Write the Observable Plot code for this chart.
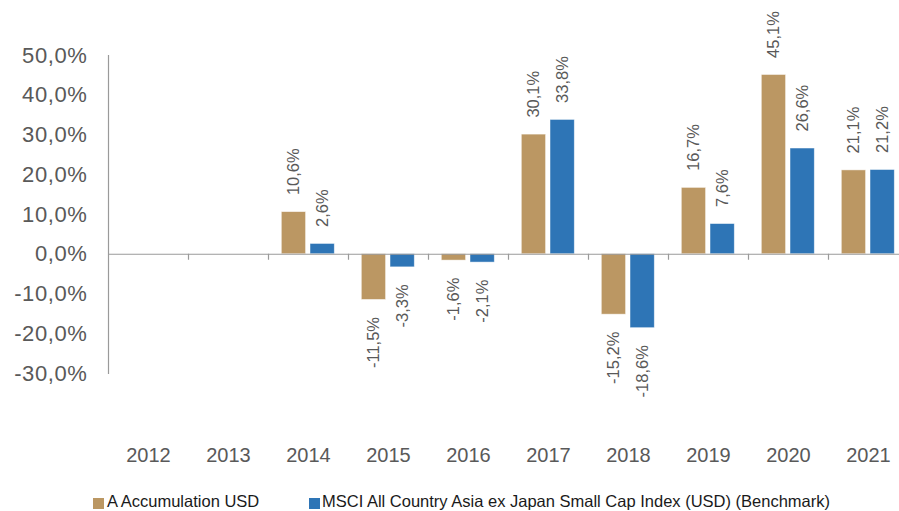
<!DOCTYPE html>
<html>
<head>
<meta charset="utf-8">
<script src="https://cdn.jsdelivr.net/npm/d3@7"></script>
<script src="https://cdn.jsdelivr.net/npm/@observablehq/plot@0.6"></script>
<style>
  html, body { margin: 0; padding: 0; background: #fff; }
  body { width: 899px; height: 511px; overflow: hidden; font-family: "Liberation Sans", Arial, sans-serif; }
  #chart svg { display: block; overflow: hidden; }
  .yax text { letter-spacing: 0.6px; }
  #legend { position: relative; height: 26px; width: 899px; font-family: "Liberation Sans", Arial, sans-serif; font-size: 16.5px; color: #1a1a1a; }
  #legend .sw { position: absolute; top: 13px; width: 10.5px; height: 10.5px; }
  #legend .lb { position: absolute; top: 7px; line-height: 19px; white-space: nowrap; }
</style>
</head>
<body>
<div id="chart"></div>
<div id="legend"></div>
<script>
// ---- data ----
const years = ["2012", "2013", "2014", "2015", "2016", "2017", "2018", "2019", "2020", "2021"];
const fundValues = [null, null, 10.6, -11.5, -1.6, 30.1, -15.2, 16.7, 45.1, 21.1];
const benchValues = [null, null, 2.6, -3.3, -2.1, 33.8, -18.6, 7.6, 26.6, 21.2];
const seriesNames = ["A Accumulation USD", "MSCI All Country Asia ex Japan Small Cap Index (USD) (Benchmark)"];
const yTicks = [-30, -20, -10, 0, 10, 20, 30, 40, 50];

const gold = "#BB9763";
const blue = "#2E75B6";
const gray = "#595959";

const rows = years.map((year, i) => ({year, fund: fundValues[i], bench: benchValues[i]}));
const fmt = v => v.toFixed(1).replace(".", ",") + "%";

const fundRows = rows.filter(d => d.fund != null);
const benchRows = rows.filter(d => d.bench != null);

const W = 899, H = 485;

const chart = Plot.plot({
  width: W,
  height: H,
  marginLeft: 108,
  marginRight: 0,
  marginTop: 55,
  marginBottom: 112,
  style: {fontFamily: "'Liberation Sans', Arial, sans-serif", color: gray, background: "#fff"},
  x: {domain: years, range: [108, 908], padding: 0},
  y: {domain: [-30, 50]},
  marks: [
    Plot.frame({anchor: "left", stroke: "#9a9a9a", strokeWidth: 1.2}),
    Plot.axisY(yTicks, {
      tickSize: 0, tickPadding: 21, fontSize: 22, fill: gray,
      tickFormat: fmt, className: "yax", label: null
    }),
    Plot.axisX({tickSize: 0, tickPadding: 74, fontSize: 20, fill: gray, label: null}),
    Plot.barY(fundRows, {x: "year", y: "fund", fill: gold, insetLeft: 13.3, insetRight: 42.4,
      stroke: "#fff", strokeWidth: 0.8, strokeOpacity: 0.6}),
    Plot.barY(benchRows, {x: "year", y: "bench", fill: blue, insetLeft: 42, insetRight: 13.7,
      stroke: "#fff", strokeWidth: 0.8, strokeOpacity: 0.6}),
    Plot.ruleY([0], {stroke: "#9a9a9a", strokeWidth: 1.2}),
    Plot.ruleX(years.slice(1), {x: d => d, y1: 0, y2: 0, insetBottom: -6, dx: -40, stroke: "#9a9a9a", strokeWidth: 1.2}),
    // labels: fund
    Plot.text(fundRows.filter(d => d.fund >= 0), {x: "year", y: "fund", text: d => fmt(d.fund),
      rotate: -90, textAnchor: "start", dx: -14.6, dy: -17, fontSize: 16.5, fill: gray}),
    Plot.text(fundRows.filter(d => d.fund < 0), {x: "year", y: "fund", text: d => fmt(d.fund),
      rotate: -90, textAnchor: "end", dx: -14.6, dy: 17, fontSize: 16.5, fill: gray}),
    // labels: bench
    Plot.text(benchRows.filter(d => d.bench >= 0), {x: "year", y: "bench", text: d => fmt(d.bench),
      rotate: -90, textAnchor: "start", dx: 14.2, dy: -17, fontSize: 16.5, fill: gray}),
    Plot.text(benchRows.filter(d => d.bench < 0), {x: "year", y: "bench", text: d => fmt(d.bench),
      rotate: -90, textAnchor: "end", dx: 14.2, dy: 17, fontSize: 16.5, fill: gray})
  ]
});
document.getElementById("chart").appendChild(chart);

// legend
const legend = document.getElementById("legend");
const items = [
  {name: seriesNames[0], color: gold, sx: 93, tx: 107},
  {name: seriesNames[1], color: blue, sx: 309, tx: 322}
];
for (const it of items) {
  const sw = document.createElement("div");
  sw.className = "sw";
  sw.style.left = it.sx + "px";
  sw.style.background = it.color;
  legend.appendChild(sw);
  const lb = document.createElement("div");
  lb.className = "lb";
  lb.style.left = it.tx + "px";
  lb.textContent = it.name;
  legend.appendChild(lb);
}
</script>
</body>
</html>
